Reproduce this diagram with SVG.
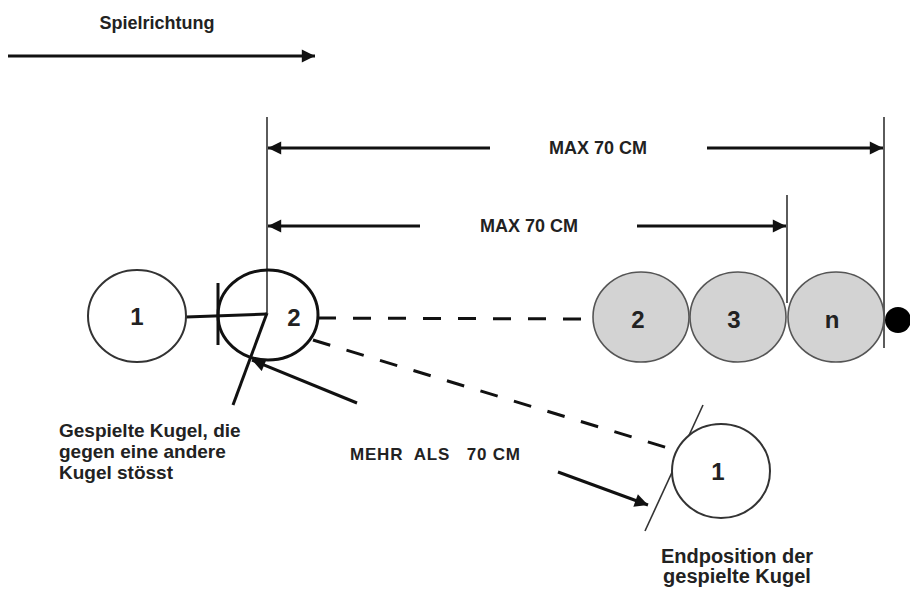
<svg xmlns="http://www.w3.org/2000/svg" width="910" height="589" viewBox="0 0 910 589">
<defs>
<marker id="ah" viewBox="0 0 10 10" refX="10" refY="5" markerWidth="5" markerHeight="4.4" markerUnits="strokeWidth" orient="auto">
<path d="M0,0 L10,5 L0,10 Z" fill="#111"/>
</marker>
<style>
.t{font-family:"Liberation Sans",Arial,sans-serif;font-weight:bold;fill:#222}
.ln{stroke:#111;stroke-width:3;fill:none}
.thin{stroke:#333;stroke-width:1.6;fill:none}
.dash{stroke:#111;stroke-width:3;fill:none;stroke-dasharray:18 17}
.ball{fill:#fff;stroke:#333;stroke-width:2}
.gray{fill:#d3d3d3;stroke:#555;stroke-width:1.6}
.lbl{font-size:24px;text-anchor:middle}
</style>
</defs>
<rect width="910" height="589" fill="#fff"/>

<g id="direction">
<text class="t" x="157" y="29" font-size="18" text-anchor="middle">Spielrichtung</text>
<line class="ln" x1="8" y1="56" x2="315" y2="56" marker-end="url(#ah)"/>
</g>

<g id="connectors">
<line class="thin" x1="267" y1="117" x2="267" y2="313"/>
<line class="thin" x1="884" y1="117" x2="884" y2="348"/>
<line class="thin" x1="787" y1="195" x2="787" y2="303"/>
<line class="ln" x1="490" y1="148" x2="268" y2="148" marker-end="url(#ah)"/>
<line class="ln" x1="707" y1="148" x2="883" y2="148" marker-end="url(#ah)"/>
<line class="ln" x1="420" y1="226" x2="268" y2="226" marker-end="url(#ah)"/>
<line class="ln" x1="637" y1="226" x2="786" y2="226" marker-end="url(#ah)"/>
<line class="ln" x1="186" y1="317" x2="267" y2="314"/>
<line class="ln" x1="218" y1="283" x2="218" y2="345"/>
<line class="ln" x1="267" y1="313" x2="233" y2="405"/>
<line class="ln" x1="357" y1="403" x2="252" y2="360" marker-end="url(#ah)"/>
<line class="dash" x1="318" y1="318" x2="593" y2="319"/>
<line class="dash" x1="313" y1="340" x2="678" y2="451"/>
<line class="ln" x1="558" y1="472" x2="648" y2="505" marker-end="url(#ah)"/>
<line class="thin" x1="703" y1="405" x2="645" y2="531"/>
</g>

<g id="ball1-left">
<ellipse class="ball" cx="137" cy="316" rx="49" ry="46"/>
<text class="t lbl" x="137" y="325">1</text>
</g>

<g id="ball2-played">
<ellipse cx="268" cy="315" rx="50" ry="45" fill="none" stroke="#111" stroke-width="3"/>
<text class="t lbl" x="294" y="326">2</text>
</g>

<g id="ball2-gray">
<ellipse class="gray" cx="641" cy="317" rx="48" ry="45"/>
<text class="t lbl" x="638" y="328">2</text>
</g>
<g id="ball3-gray">
<ellipse class="gray" cx="738" cy="317" rx="48" ry="45"/>
<text class="t lbl" x="734" y="328">3</text>
</g>
<g id="balln-gray">
<ellipse class="gray" cx="836" cy="317" rx="48" ry="45"/>
<text class="t lbl" x="832" y="328">n</text>
</g>
<g id="jack">
<circle cx="898" cy="320" r="13" fill="#000"/>
</g>

<g id="ball1-end">
<ellipse class="ball" cx="721" cy="471" rx="49" ry="47"/>
<text class="t lbl" x="718" y="480">1</text>
</g>

<g id="labels">
<text class="t" x="598" y="154" font-size="18" text-anchor="middle">MAX 70 CM</text>
<text class="t" x="529" y="232" font-size="18" text-anchor="middle">MAX 70 CM</text>
<text class="t" x="350" y="460" font-size="17" style="white-space:pre" textLength="170" lengthAdjust="spacing">MEHR  ALS   70 CM</text>
<text class="t" x="59" y="437" font-size="19">Gespielte Kugel, die</text>
<text class="t" x="59" y="458" font-size="19">gegen eine andere</text>
<text class="t" x="59" y="479" font-size="19">Kugel stösst</text>
<text class="t" x="737" y="563" font-size="20" text-anchor="middle">Endposition der</text>
<text class="t" x="737" y="583" font-size="20" text-anchor="middle">gespielte Kugel</text>
</g>
</svg>
